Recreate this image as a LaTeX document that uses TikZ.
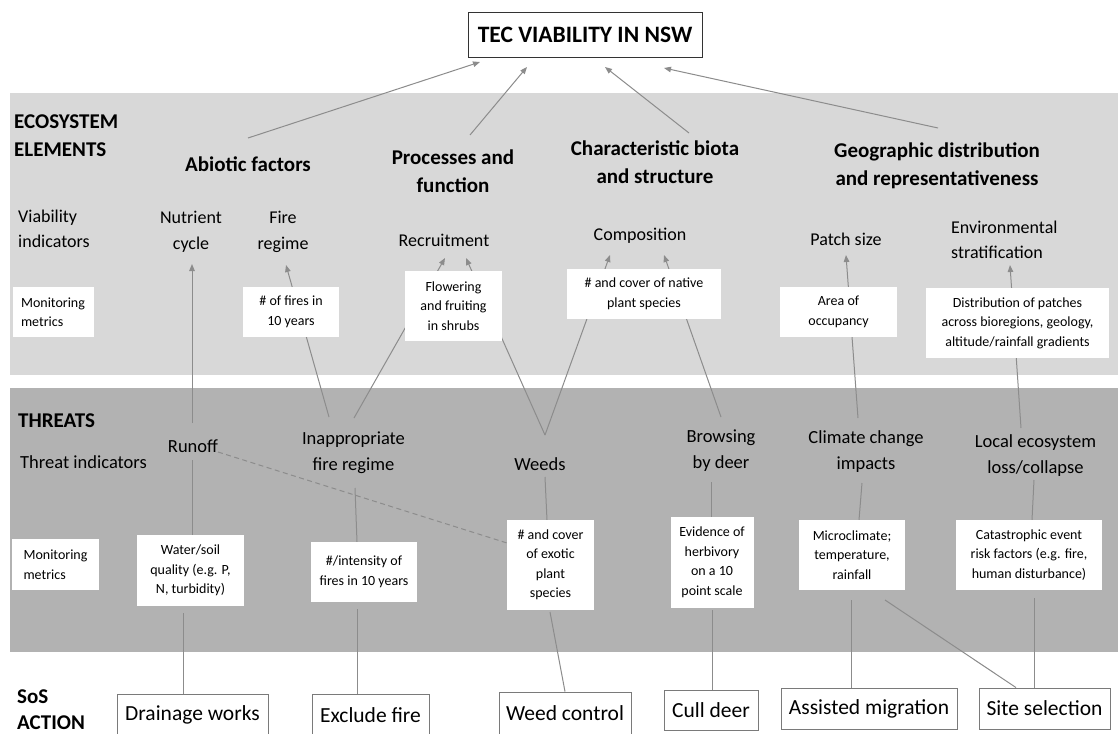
\documentclass[tikz,border=0pt]{standalone}
\usepackage{fontspec}
\setmainfont{Carlito}
\usetikzlibrary{arrows.meta,calc}
\definecolor{lightband}{HTML}{D8D8D8}
\definecolor{darkband}{HTML}{B2B2B2}
\definecolor{linegray}{HTML}{8C8C8C}
\definecolor{boxline}{HTML}{7A7A7A}
\begin{document}
\begin{tikzpicture}[x=1pt,y=-1pt,
  conn/.style={draw=linegray, line width=1pt},
  arr/.style={conn, -{Triangle[length=7pt,width=5.5pt]}},
  head/.style={font=\bfseries\fontsize{21}{28}\selectfont, align=center, inner sep=0pt},
  ind/.style={font=\fontsize{18}{25.5}\selectfont, align=center, inner sep=0pt},
  thr/.style={font=\fontsize{18.5}{26}\selectfont, align=center, inner sep=0pt},
  metric/.style={fill=white, font=\fontsize{14}{19.5}\selectfont, align=center, inner sep=0pt},
  action/.style={draw=boxline, line width=0.9pt, fill=white, font=\fontsize{21.5}{24}\selectfont, inner sep=0pt},
]
\useasboundingbox (0,0) rectangle (1120,734);
\fill[white] (0,0) rectangle (1120,734);
% bands
\fill[lightband] (10,93) rectangle (1118,375);
\fill[darkband] (10,388) rectangle (1118,652);

% title
\node[draw=black!80, line width=0.9pt, fill=white, minimum width=234pt, minimum height=45pt, inner sep=0pt,
  font=\bfseries\fontsize{23.5}{26}\selectfont] (title) at (585,34.5) {TEC VIABILITY IN NSW};

% section labels
\node[head, anchor=west, align=left] (eco) at (14,136) {ECOSYSTEM\\ELEMENTS};
\node[head, anchor=west, align=left] (threats) at (18,421) {THREATS};
\node[head, anchor=west, align=left, font=\bfseries\fontsize{21}{26}\selectfont] (sos) at (17,710) {SoS\\ACTION};

% element headings
\node[head] (abiotic) at (248,164.5) {Abiotic factors};
\node[head] (processes) at (453,171) {Processes and\\function};
\node[head] (charbiota) at (655,162) {Characteristic biota\\and structure};
\node[head] (geo) at (937,165.5) {Geographic distribution\\and representativeness};

% viability indicators
\node[ind, anchor=west, align=left] (viab) at (18,229) {Viability\\indicators};
\node[ind] (nutrient) at (191,232) {Nutrient\\cycle};
\node[ind] (fireregime) at (283,232) {Fire\\regime};
\node[ind] (recruit) at (444,240) {Recruitment};
\node[ind] (compos) at (640,236) {Composition};
\node[ind] (patch) at (846,239) {Patch size};
\node[ind, anchor=west, align=left] (envstrat) at (951,240) {Environmental\\stratification};

% threat indicators
\node[thr, anchor=west] (threatind) at (20,462) {Threat indicators};
\node[thr] (runoff) at (193,446) {Runoff};
\node[thr] (inapp) at (353.5,453) {Inappropriate\\fire regime};
\node[thr] (weeds) at (540,464) {Weeds};
\node[thr] (browsing) at (721,451) {Browsing\\by deer};
\node[thr] (climate) at (866,451.5) {Climate change\\impacts};
\node[thr] (local) at (1035.5,456) {Local ecosystem\\loss/collapse};

% action boxes
\node[action, minimum width=151pt, minimum height=42pt] (a1) at (192.5,715) {Drainage works};
\node[action, minimum width=117pt, minimum height=42pt] (a2) at (370.5,715) {Exclude fire};
\node[action, minimum width=132pt, minimum height=42pt] (a3) at (565,713) {Weed control};
\node[action, minimum width=94pt, minimum height=40pt] (a4) at (711,710) {Cull deer};
\node[action, minimum width=176pt, minimum height=41pt] (a5) at (869,708.5) {Assisted migration};
\node[action, minimum width=131pt, minimum height=41pt] (a6) at (1044.5,708.5) {Site selection};

% monitoring metric boxes: positions
\coordinate (m1c) at (53,312);
\coordinate (m2c) at (291,312);
\coordinate (m3c) at (453.5,306);
\coordinate (m4c) at (644,294);
\coordinate (m5c) at (838.5,312);
\coordinate (m6c) at (1017.5,323);
\coordinate (b1c) at (55.5,564.5);
\coordinate (b2c) at (190.5,570.5);
\coordinate (b3c) at (364,572);
\coordinate (b4c) at (550.5,565);
\coordinate (b5c) at (712,562.5);
\coordinate (b6c) at (852,555);
\coordinate (b7c) at (1029,555);

% connectors to title
\draw[arr] ($(abiotic)+(0,-26.5)$) -- ($(title)+(-105,27.5)$);
\draw[arr] ($(processes)+(17,-36)$) -- ($(title)+(-58,32.5)$);
\draw[arr] ($(charbiota)+(34,-29)$) -- ($(title)+(20,32.5)$);
\draw[arr] ($(geo)+(1,-37.5)$) -- ($(title)+(79,33.5)$);

% threats to viability indicators (passing behind metric boxes)
\draw[arr] ($(runoff)+(-1,-23)$) -- ($(nutrient)+(1,32)$);
\draw[arr] ($(inapp)+(-24.5,-36)$) -- ($(fireregime)+(3,33)$);
\draw[arr] ($(inapp)+(0.5,-35)$) -- ($(recruit)+(1,18)$);
\draw[arr] ($(weeds)+(5,-29)$) -- ($(recruit)+(22,18)$);
\draw[arr] ($(weeds)+(5,-29)$) -- ($(compos)+(-30,19)$);
\draw[arr] ($(browsing)+(0,-34)$) -- ($(compos)+(24,19)$);
\draw[arr] ($(climate)+(-8,-33.5)$) -- ($(patch)+(0,16)$);
\draw[arr] ($(local)+(-14.5,-28)$) -- ($(envstrat.west)+(59,25)$);

% dashed runoff to exotic species
\draw[conn, dash pattern=on 5pt off 3.5pt] ($(runoff)+(25,6)$) -- ($(b4c)+(-43.5,-22)$);

% threats to threat metrics
\draw[conn] ($(runoff)+(-1,14)$) -- ($(b2c)+(1.5,-35.5)$);
\draw[conn] ($(inapp)+(1.5,35)$) -- ($(b3c)+(-7,-30)$);
\draw[conn] ($(weeds)+(5,13)$) -- ($(b4c)+(-3.5,-45)$);
\draw[conn] ($(browsing)+(-10,31)$) -- ($(b5c)+(-1,-45.5)$);
\draw[conn] ($(climate)+(-4,31.5)$) -- ($(b6c)+(7,-35)$);
\draw[conn] ($(local)+(-1.5,24)$) -- ($(b7c)+(3,-35)$);

% threat metrics to actions
\draw[conn] ($(b2c)+(-7.5,42.5)$) -- ($(a1.north)+(-9.5,0)$);
\draw[conn] ($(b3c)+(-7,37)$) -- ($(a2.north)+(-13.5,0)$);
\draw[conn] ($(b4c)+(-0.5,47)$) -- (a3.north);
\draw[conn] ($(b5c)+(0,47.5)$) -- ($(a4.north)+(1,0)$);
\draw[conn] ($(b6c)+(-1,45)$) -- ($(a5.north)+(-18,0)$);
\draw[conn] ($(b6c)+(33,45)$) -- ($(a6.north)+(-28.5,0)$);
\draw[conn] ($(b7c)+(5,43)$) -- ($(a6.north)+(-10.5,0)$);

% monitoring metric boxes (ecosystem)
\node[metric, minimum width=81pt, minimum height=50pt, align=left] (m1) at (m1c) {Monitoring\\metrics};
\node[metric, minimum width=96pt, minimum height=50pt] (m2) at (m2c) {\# of fires in\\10 years};
\node[metric, minimum width=97pt, minimum height=70pt] (m3) at (m3c) {Flowering\\and fruiting\\in shrubs};
\node[metric, minimum width=154pt, minimum height=50pt] (m4) at (m4c) {\# and cover of native\\plant species};
\node[metric, minimum width=117pt, minimum height=50pt] (m5) at (m5c) {Area of\\occupancy};
\node[metric, minimum width=183pt, minimum height=70pt] (m6) at (m6c) {Distribution of patches\\across bioregions, geology,\\altitude/rainfall gradients};

% monitoring metric boxes (threats)
\node[metric, minimum width=87pt, minimum height=51pt, align=left] (b1) at (b1c) {Monitoring\\metrics};
\node[metric, minimum width=107pt, minimum height=71pt] (b2) at (b2c) {Water/soil\\quality (e.g. P,\\N, turbidity)};
\node[metric, minimum width=106pt, minimum height=60pt] (b3) at (b3c) {\#/intensity of\\fires in 10 years};
\node[metric, minimum width=87pt, minimum height=90pt] (b4) at (b4c) {\# and cover\\of exotic\\plant\\species};
\node[metric, minimum width=83pt, minimum height=91pt] (b5) at (b5c) {Evidence of\\herbivory\\on a 10\\point scale};
\node[metric, minimum width=106pt, minimum height=70pt] (b6) at (b6c) {Microclimate;\\temperature,\\rainfall};
\node[metric, minimum width=146pt, minimum height=70pt] (b7) at (b7c) {Catastrophic event\\risk factors (e.g. fire,\\human disturbance)};
\end{tikzpicture}
\end{document}
